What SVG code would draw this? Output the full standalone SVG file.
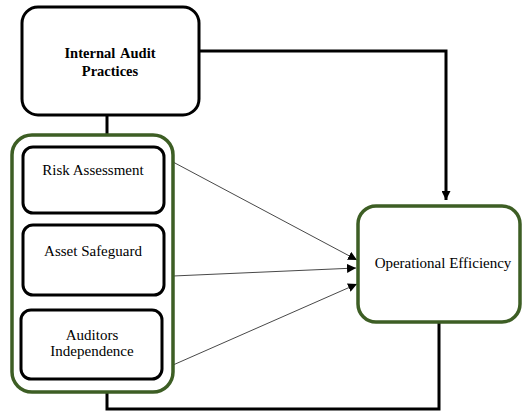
<svg xmlns="http://www.w3.org/2000/svg" width="522" height="413" viewBox="0 0 522 413">
<style>
.box{fill:#fff;stroke:#000;stroke-width:3}
.green{fill:#fff;stroke:#3d5e24;stroke-width:3.5}
.t{font-family:"Liberation Serif","Times New Roman",serif;font-size:15px;fill:#000;text-anchor:middle}
.b{font-weight:bold;font-size:14.5px;word-spacing:2px}
.thick{fill:none;stroke:#000;stroke-width:3}
.thin{fill:none;stroke:#333;stroke-width:0.9}
</style>
<defs>
<marker id="ah" viewBox="0 0 10 10" refX="10" refY="5" markerWidth="9" markerHeight="9" markerUnits="userSpaceOnUse" orient="auto"><path d="M0,0 L10,5 L0,10 z" fill="#000"/></marker>
<marker id="ah2" viewBox="0 0 10 10" refX="10" refY="5" markerWidth="3" markerHeight="3" orient="auto"><path d="M0,0 L10,5 L0,10 z" fill="#000"/></marker>
</defs>
<g id="connectors">
<path class="thick" d="M107,115 V136"/>
<path class="thick" d="M199,51 H446 V200" marker-end="url(#ah2)"/>
<path class="thick" d="M107,386 V409 H439 V321"/>
<line class="thin" x1="173" y1="162" x2="357" y2="260" marker-end="url(#ah)"/>
<line class="thin" x1="173" y1="276" x2="356" y2="268" marker-end="url(#ah)"/>
<line class="thin" x1="173" y1="365" x2="357" y2="284" marker-end="url(#ah)"/>
</g>
<g id="internal-audit">
<rect class="box" x="22" y="7" width="177" height="108" rx="16"/>
<text class="t b" x="110" y="58">Internal Audit</text>
<text class="t b" x="110" y="76">Practices</text>
</g>
<g id="group">
<rect class="green" x="12" y="135" width="161" height="257" rx="20"/>
</g>
<g id="risk">
<rect class="box" x="23" y="147" width="141" height="66" rx="10"/>
<text class="t" x="93" y="175">Risk Assessment</text>
</g>
<g id="asset">
<rect class="box" x="23" y="225" width="141" height="70" rx="10"/>
<text class="t" x="93" y="256">Asset Safeguard</text>
</g>
<g id="auditors">
<rect class="box" x="21" y="310" width="141" height="69" rx="10"/>
<text class="t" x="92" y="340">Auditors</text>
<text class="t" x="92" y="356">Independence</text>
</g>
<g id="oe">
<rect class="green" x="358" y="206" width="162" height="116" rx="18"/>
<text class="t" x="443" y="268">Operational Efficiency</text>
</g>
</svg>
